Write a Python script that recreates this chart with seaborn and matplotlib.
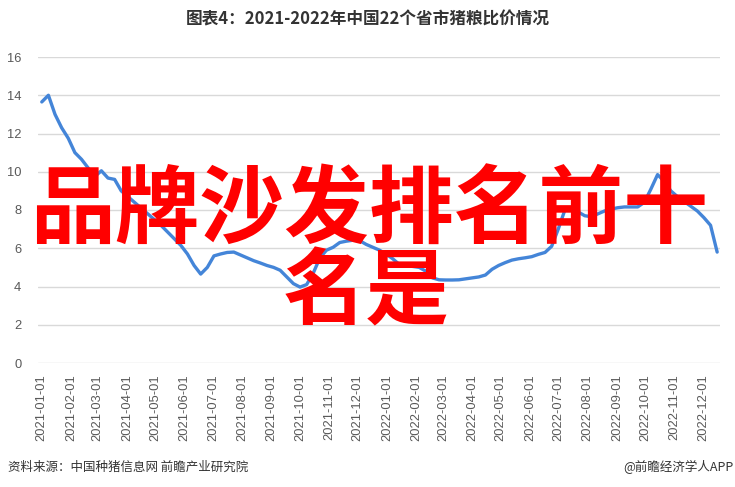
import numpy as np
import pandas as pd
import matplotlib
matplotlib.use("Agg")
import matplotlib.pyplot as plt
import matplotlib.dates as mdates
import seaborn as sns

title = "图表4：2021-2022年中国22个省市猪粮比价情况"
source = "资料来源：中国种猪信息网 前瞻产业研究院"
brand = "@前瞻经济学人APP"
overlay_1 = "品牌沙发排名前十"
overlay_2 = "名是"

start_date = "2021-01-01"
ratio = [
    13.65, 14.0, 13.0, 12.3, 11.75, 11.0, 10.65, 10.2, 9.75, 10.05,
    9.67, 9.6, 9.0, 8.7, 8.4, 8.1, 7.8, 7.5, 7.2, 6.85,
    6.5, 6.15, 5.7, 5.1, 4.65, 5.0, 5.6, 5.7, 5.78, 5.8,
    5.65, 5.5, 5.35, 5.23, 5.1, 5.0, 4.85, 4.5, 4.15, 3.97,
    4.1, 4.7, 5.5, 5.9, 6.05, 6.3, 6.37, 6.42, 6.4, 6.2,
    6.05, 5.9, 5.7, 5.45, 5.15, 5.1, 5.05, 5.0, 4.8, 4.45,
    4.35, 4.34, 4.34, 4.35, 4.4, 4.45, 4.5, 4.6, 4.9, 5.1,
    5.25, 5.38, 5.45, 5.5, 5.56, 5.68, 5.78, 6.1, 7.0, 8.0,
    8.05, 7.9, 7.7, 7.65, 7.8, 7.95, 8.05, 8.12, 8.16, 8.16,
    8.16, 8.4, 9.1, 9.85, 9.5, 9.0, 8.7, 8.45, 8.2, 7.95,
    7.6, 7.2, 5.8,
]
tick_labels = pd.date_range("2021-01-01", "2022-12-01", freq="MS")
yticks = [0, 2, 4, 6, 8, 10, 12, 14, 16]

dates = pd.date_range(start_date, periods=len(ratio), freq="7D")
df = pd.DataFrame({"date": dates, "ratio": ratio})

sns.set_theme(style="white")
plt.rcParams["font.family"] = ["Liberation Sans", "Noto Sans CJK SC", "DejaVu Sans"]

fig = plt.figure(figsize=(7.35, 4.87), dpi=100)
ax = fig.add_axes([38 / 735, 1 - 363 / 487, (720 - 38) / 735, (363 - 57) / 487])

sns.lineplot(data=df, x="date", y="ratio", ax=ax, color="#4485d8", linewidth=2.4)

ax.set_ylim(0, 16)
ax.set_yticks(yticks)
ax.set_xlim(pd.Timestamp("2020-12-28"), pd.Timestamp("2022-12-19"))
ax.set_xticks(tick_labels)
ax.set_xticklabels([d.strftime("%Y-%m-%d") for d in tick_labels], rotation=90)
ax.grid(axis="y", color="#d9d9d9", linewidth=1)
ax.grid(axis="x", visible=False)
for s in ax.spines.values():
    s.set_visible(False)
ax.tick_params(axis="both", length=0, colors="#595959", labelsize=9.3)
ax.tick_params(axis="y", pad=12)
ax.tick_params(axis="x", pad=8)
ax.set_xlabel("")
ax.set_ylabel("")

fig.text(0.5, 1 - 19 / 487, title, ha="center", va="center", fontsize=12,
         fontweight="bold", color="#333333", family=["Noto Sans CJK SC", "DejaVu Sans"])
fig.text(8 / 735, 1 - 467 / 487, source, ha="left", va="center", fontsize=9,
         color="#333333", family=["Noto Sans CJK SC", "DejaVu Sans"])
fig.text(733 / 735, 1 - 467 / 487, brand, ha="right", va="center", fontsize=9,
         color="#333333", family=["Noto Sans CJK SC", "DejaVu Sans"])

fig.text(369 / 735, 1 - 211 / 487, overlay_1, ha="center", va="center", fontsize=61,
         fontweight="bold", color="#ff0000", family=["Noto Sans CJK SC", "DejaVu Sans"])
fig.text(366 / 735, 1 - 294 / 487, overlay_2, ha="center", va="center", fontsize=60,
         fontweight="bold", color="#ff0000", family=["Noto Sans CJK SC", "DejaVu Sans"])

fig.savefig("out.png", dpi=100)
